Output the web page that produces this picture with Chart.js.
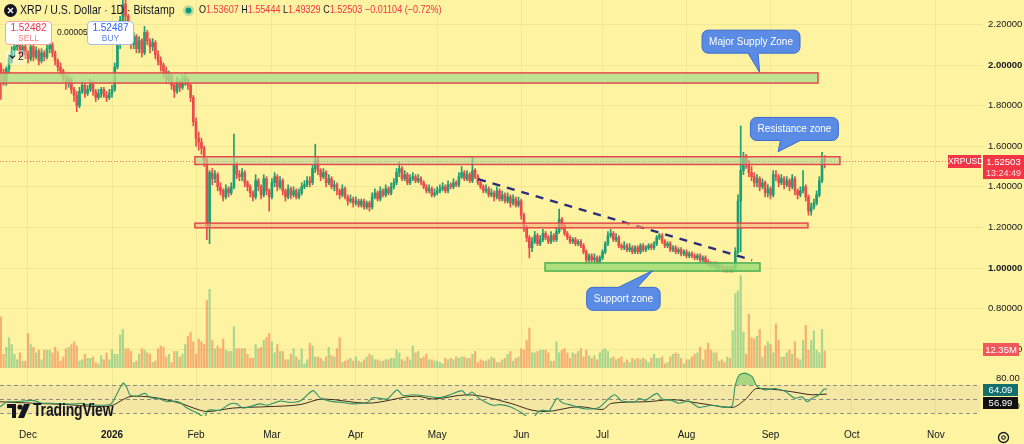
<!DOCTYPE html>
<html>
<head>
<meta charset="utf-8">
<script src="https://cdn.jsdelivr.net/npm/chart.js@4.4.1/dist/chart.umd.min.js"></script>
<style>
  body { margin: 0; width: 1024px; height: 444px; overflow: hidden; position: relative; background: #fef3a1; font-family: "Liberation Sans", Arial, sans-serif; color: #131722; }
  canvas { position: absolute; left: 0; }
  #priceCanvas { top: 0; }
  #rsiCanvas { top: 368px; }
  .ov { position: absolute; white-space: nowrap; }
  .sq { transform-origin: 0 50%; transform: scaleX(0.8); }
  .box { position: absolute; background: #fff; border-radius: 4px; text-align: center; line-height: 10px; }
  .tag { position: absolute; color: #fff; text-align: center; font-size: 9.5px; }
  .red { color: #f23645; }
</style>
</head>
<body>
<canvas id="priceCanvas" width="1024" height="368"></canvas>
<canvas id="rsiCanvas" width="1024" height="76"></canvas>

<!-- header -->
<svg class="ov" style="left:4px;top:4px" width="13" height="13"><circle cx="6.5" cy="6.5" r="6.5" fill="#131722"/><path d="M4 4 L9 9 M9 4 L4 9" stroke="#fff" stroke-width="1.4"/></svg>
<div class="ov sq" style="left:20px;top:2px;font-size:13.2px">XRP / U.S. Dollar · 1D · Bitstamp</div>
<svg class="ov" style="left:183px;top:5px" width="11" height="11"><circle cx="5.5" cy="5.5" r="5.5" fill="rgba(8,153,129,0.25)"/><circle cx="5.5" cy="5.5" r="3" fill="#089981"/></svg>
<div class="ov sq" style="left:199px;top:3px;font-size:11.3px">O<span class="red">1.53607</span> H<span class="red">1.55444</span> L<span class="red">1.49329</span> C<span class="red">1.52503</span> <span class="red">−0.01104 (−0.72%)</span></div>

<div class="box" style="left:5px;top:21px;width:45px;height:21px;border:1px solid #f4a3a8;padding-top:1px">
  <div style="font-size:10px;color:#f23645">1.52482</div><div style="font-size:8.5px;color:#f77c80">SELL</div>
</div>
<div class="ov" style="left:57px;top:27px;font-size:8.5px">0.00005</div>
<div class="box" style="left:87px;top:21px;width:45px;height:21px;border:1px solid #a9bde6;padding-top:1px">
  <div style="font-size:10px;color:#2962ff">1.52487</div><div style="font-size:8.5px;color:#5b86f0">BUY</div>
</div>
<div class="ov" style="left:6px;top:50px;width:20px;height:15px;background:rgba(255,255,255,0.35);border-radius:3px"></div>
<svg class="ov" style="left:9px;top:54px" width="7" height="6"><path d="M1 1.5 L3.5 4 L6 1.5" stroke="#131722" stroke-width="1.2" fill="none"/></svg>
<div class="ov" style="left:18px;top:50px;font-size:10.5px">2</div>

<!-- right side labels -->
<div class="tag" style="left:948px;top:155px;width:33px;height:13px;line-height:13px;background:#f23645;font-size:8.5px">XRPUSD</div>
<div class="tag" style="left:983px;top:155px;width:41px;height:24px;background:#f23645">
  <div style="line-height:12px;margin-top:1px">1.52503</div><div style="line-height:10px;font-size:9px;color:#fdd">13:24:49</div>
</div>
<div class="tag" style="left:983px;top:343px;width:36px;height:13px;line-height:13px;background:#f0585c">12.35M</div>
<div class="tag" style="left:983px;top:384px;width:35px;height:12px;line-height:12px;background:#13706c">64.09</div>
<div class="tag" style="left:983px;top:397px;width:35px;height:12px;line-height:12px;background:#111">56.99</div>

<!-- logo + settings -->
<svg class="ov" style="left:7px;top:404px" width="24" height="14">
  <path d="M0 0 H9 V14 H5 V4 H0 Z" fill="#131722"/><circle cx="13" cy="3" r="2.6" fill="#131722"/><path d="M17 0 H23 L17 14 H11 Z" fill="#131722"/>
</svg>
<div class="ov sq" style="left:33px;top:400px;font-size:17.5px;font-weight:bold;letter-spacing:-0.2px">TradingView</div>
<svg class="ov" style="left:997px;top:431px" width="13" height="13"><circle cx="6.5" cy="6.5" r="5" stroke="#131722" stroke-width="1.3" fill="none"/><circle cx="6.5" cy="6.5" r="1.8" stroke="#131722" stroke-width="1.1" fill="none"/></svg>

<script>
// ---- data (day index 0 = 1 Dec 2025) ----
const firstDay = -10;
const firstOpen = 2.00;

const closes = [
  1.96,1.92,1.98,2.03,2.07,2.09,2.12,2.06,2.09,2.05,
  2.03,2.09,2.04,2.07,2.02,2.06,2.04,2.08,2.10,2.06,2.02,1.99,1.97,1.94,1.91,1.93,1.88,1.85,1.80,1.87,1.90,1.86,1.88,1.91,1.87,1.84,1.86,1.88,1.85,1.84,1.86,
  1.88,1.99,2.10,2.22,2.30,2.24,2.13,2.10,2.14,2.08,2.12,2.06,2.16,2.12,2.09,2.11,2.05,2.02,2.00,1.97,1.93,1.95,1.90,1.87,1.92,1.89,1.92,1.93,1.90,1.84,1.72,
  1.64,1.62,1.59,1.53,1.20,1.47,1.44,1.46,1.40,1.38,1.35,1.39,1.37,1.40,1.51,1.46,1.45,1.47,1.42,1.40,1.37,1.35,1.43,1.40,1.36,1.44,1.38,1.35,
  1.42,1.45,1.40,1.43,1.38,1.35,1.39,1.36,1.38,1.35,1.37,1.40,1.41,1.43,1.42,1.49,1.53,1.48,1.45,1.47,1.42,1.44,1.40,1.41,1.38,1.36,1.39,1.35,1.33,1.34,1.32,
  1.33,1.31,1.33,1.30,1.32,1.30,1.35,1.37,1.34,1.38,1.36,1.39,1.37,1.40,1.42,1.47,1.49,1.44,1.46,1.42,1.44,1.45,1.43,1.44,1.42,1.40,1.38,1.39,1.36,1.37,
  1.38,1.39,1.40,1.38,1.41,1.40,1.42,1.41,1.45,1.47,1.44,1.46,1.43,1.48,1.45,1.42,1.40,1.38,1.39,1.36,1.37,1.35,1.38,1.34,1.36,1.33,1.35,1.32,1.34,1.31,1.33,
  1.26,1.20,1.15,1.10,1.13,1.16,1.12,1.14,1.17,1.15,1.13,1.16,1.14,1.18,1.24,1.21,1.17,1.15,1.13,1.14,1.12,1.13,1.11,1.08,1.04,1.06,1.04,1.05,1.03,1.05,
  1.08,1.12,1.16,1.17,1.14,1.15,1.11,1.10,1.11,1.09,1.10,1.08,1.10,1.08,1.11,1.09,1.10,1.11,1.10,1.12,1.15,1.16,1.13,1.11,1.12,1.09,1.10,1.08,1.09,1.07,1.08,
  1.06,1.07,1.06,1.05,1.06,1.04,1.05,1.03,1.02,1.01,1.02,1.00,1.01,1.00,0.99,1.00,0.99,1.00,1.08,1.33,1.48,1.55,1.52,1.47,1.45,1.42,1.44,1.40,1.42,1.37,1.39,
  1.36,1.46,1.45,1.42,1.44,1.41,1.43,1.40,1.44,1.38,1.36,1.38,1.40,1.35,1.28,1.30,1.32,1.36,1.43,1.536,1.525
];
const highs = [
  2.01,1.98,1.99,2.05,2.09,2.12,2.14,2.13,2.11,2.10,
  2.07,2.11,2.10,2.09,2.08,2.08,2.07,2.10,2.12,2.11,2.07,2.03,2.01,1.98,1.95,1.95,1.94,1.89,1.87,1.89,1.92,1.91,1.90,1.93,1.92,1.88,1.88,1.89,1.89,1.87,1.88,
  1.90,2.01,2.12,2.24,2.33,2.32,2.25,2.16,2.16,2.15,2.14,2.13,2.19,2.17,2.13,2.13,2.12,2.07,2.04,2.01,1.99,1.97,1.96,1.91,1.94,1.93,1.95,1.96,1.94,1.91,1.85,
  1.74,1.67,1.64,1.60,1.54,1.48,1.49,1.48,1.47,1.42,1.39,1.41,1.40,1.42,1.66,1.52,1.48,1.49,1.48,1.43,1.41,1.38,1.46,1.44,1.41,1.46,1.45,1.39,
  1.44,1.47,1.46,1.45,1.44,1.39,1.41,1.40,1.40,1.39,1.39,1.42,1.43,1.45,1.45,1.51,1.61,1.55,1.49,1.49,1.48,1.46,1.45,1.43,1.42,1.39,1.41,1.40,1.36,1.36,1.35,
  1.35,1.34,1.34,1.34,1.33,1.33,1.37,1.39,1.38,1.40,1.39,1.41,1.40,1.42,1.44,1.49,1.52,1.50,1.48,1.47,1.46,1.47,1.46,1.46,1.45,1.43,1.41,1.41,1.40,1.39,
  1.40,1.41,1.42,1.41,1.43,1.42,1.44,1.43,1.47,1.50,1.48,1.48,1.47,1.55,1.49,1.46,1.43,1.41,1.41,1.40,1.39,1.38,1.40,1.39,1.38,1.37,1.37,1.36,1.36,1.35,1.35,
  1.34,1.27,1.21,1.16,1.15,1.18,1.17,1.16,1.19,1.18,1.16,1.18,1.17,1.20,1.29,1.25,1.22,1.18,1.16,1.15,1.15,1.14,1.14,1.12,1.09,1.07,1.07,1.07,1.06,1.06,
  1.09,1.13,1.18,1.19,1.18,1.17,1.16,1.12,1.13,1.12,1.12,1.11,1.11,1.11,1.12,1.12,1.11,1.12,1.12,1.13,1.16,1.17,1.17,1.14,1.13,1.13,1.11,1.11,1.10,1.10,1.09,
  1.09,1.08,1.08,1.07,1.07,1.07,1.06,1.06,1.04,1.03,1.03,1.03,1.02,1.02,1.01,1.01,1.01,1.01,1.10,1.36,1.70,1.57,1.56,1.53,1.50,1.47,1.46,1.45,1.44,1.43,1.41,
  1.40,1.48,1.48,1.46,1.46,1.45,1.45,1.44,1.46,1.45,1.39,1.40,1.48,1.41,1.36,1.32,1.34,1.38,1.45,1.57,1.554
];
const lows = [
  1.83,1.90,1.90,1.96,2.01,2.05,2.07,2.04,2.04,2.03,
  2.01,2.02,2.02,2.03,2.00,2.01,2.02,2.03,2.06,2.04,2.00,1.97,1.95,1.92,1.88,1.89,1.86,1.82,1.77,1.79,1.86,1.84,1.85,1.87,1.85,1.82,1.83,1.84,1.84,1.82,1.83,
  1.84,1.87,1.98,2.08,2.20,2.21,2.11,2.08,2.08,2.06,2.06,2.04,2.05,2.10,2.06,2.07,2.03,2.00,1.97,1.94,1.91,1.91,1.88,1.84,1.86,1.87,1.88,1.90,1.88,1.82,1.70,
  1.60,1.58,1.56,1.50,1.14,1.12,1.41,1.42,1.38,1.36,1.33,1.34,1.35,1.36,1.39,1.44,1.43,1.43,1.40,1.38,1.35,1.33,1.34,1.38,1.34,1.35,1.36,1.28,
  1.34,1.40,1.38,1.39,1.36,1.33,1.34,1.34,1.35,1.34,1.34,1.36,1.39,1.40,1.40,1.41,1.47,1.46,1.43,1.44,1.40,1.41,1.39,1.38,1.36,1.34,1.35,1.34,1.31,1.32,1.30,
  1.31,1.30,1.30,1.29,1.29,1.28,1.29,1.34,1.33,1.33,1.35,1.35,1.36,1.36,1.39,1.41,1.45,1.43,1.43,1.41,1.41,1.43,1.42,1.42,1.41,1.39,1.37,1.37,1.35,1.35,
  1.36,1.37,1.38,1.37,1.37,1.39,1.39,1.40,1.40,1.44,1.43,1.43,1.42,1.42,1.44,1.41,1.39,1.37,1.37,1.35,1.35,1.33,1.34,1.33,1.33,1.32,1.32,1.30,1.31,1.30,1.30,
  1.24,1.18,1.13,1.05,1.08,1.12,1.11,1.11,1.13,1.14,1.12,1.12,1.13,1.13,1.17,1.19,1.16,1.14,1.12,1.12,1.11,1.11,1.10,1.07,1.02,1.03,1.03,1.03,1.02,1.02,
  1.04,1.07,1.11,1.15,1.13,1.13,1.10,1.09,1.09,1.08,1.08,1.07,1.07,1.07,1.07,1.08,1.08,1.09,1.09,1.09,1.11,1.14,1.12,1.10,1.10,1.08,1.08,1.07,1.07,1.06,1.06,
  1.05,1.05,1.05,1.04,1.04,1.03,1.03,1.02,1.01,1.00,1.00,0.99,0.99,0.99,0.98,0.98,0.98,0.98,0.99,1.07,1.08,1.46,1.49,1.45,1.43,1.40,1.40,1.38,1.39,1.35,1.35,
  1.34,1.35,1.43,1.40,1.41,1.39,1.40,1.38,1.39,1.36,1.34,1.35,1.37,1.33,1.26,1.26,1.29,1.31,1.35,1.42,1.493
];
// volume in millions
const volumes = [
  37,10,15,22,17,10,6,11,5,5,
  25,17,15,11,13,6,13,13,13,11,15,12,5,8,14,15,17,19,16,5,6,10,7,7,8,4,3,9,6,11,6,
  13,10,10,24,28,14,14,12,4,5,10,14,13,11,10,4,5,14,16,15,8,10,4,12,12,8,10,17,23,26,19,
  10,21,19,17,49,57,20,14,16,14,21,13,12,12,30,14,14,14,14,10,7,7,17,14,15,20,22,25,
  19,11,17,12,12,6,6,10,14,8,6,14,3,6,18,16,8,8,7,5,8,15,9,8,14,22,4,5,6,7,5,
  8,5,4,6,8,10,9,6,6,5,5,6,6,7,7,13,11,6,5,8,6,16,11,12,7,8,10,6,6,5,5,4,3,7,
  6,7,6,8,7,8,8,7,7,10,12,4,6,5,5,6,8,7,4,4,6,7,10,12,5,7,8,14,13,20,29,
  11,11,12,13,13,13,11,5,5,19,11,13,14,11,7,11,10,12,14,8,13,9,7,9,6,11,13,14,12,7,
  8,6,7,8,4,6,4,7,6,7,6,7,6,4,7,10,7,7,8,3,4,8,10,11,10,7,3,6,6,8,10,
  11,15,6,13,18,13,11,11,5,6,4,8,7,27,54,56,67,26,10,39,22,21,23,28,8,16,19,17,11,32,20,
  8,8,11,13,10,19,7,6,20,31,13,20,27,13,11,28,12.35
];

const monthDays = [0, 31, 62, 90, 121, 151, 182, 212, 243, 274, 304, 335];
const monthLabels = ['Dec', '2026', 'Feb', 'Mar', 'Apr', 'May', 'Jun', 'Jul', 'Aug', 'Sep', 'Oct', 'Nov'];
const priceTicks = [0.6, 0.8, 1.0, 1.2, 1.4, 1.6, 1.8, 2.0, 2.2];
const rsiTicks = [40, 80];
const lastPrice = 1.52503;

const rsiDays = [-10.3,-7.7,-5.5,-1.8,1.8,5.2,8.1,12.9,18.1,19.2,21.8,26.6,30.3,31.4,33.2,35.1,36.5,37.6,40.2,43.2,45.0,48.7,51.3,53.5,56.1,58.7,62.4,65.3,66.4,70.8,74.5,77.1,79.3,85.6,88.2,93.0,96.7,100.4,105.2,107.7,111.4,116.2,119.9,125.1,127.3,132.5,136.2,138.4,142.1,147.2,152.0,155.7,160.1,162.0,163.8,166.8,171.6,174.2,177.9,182.3,186.0,187.8,189.7,192.3,195.2,197.0,200.7,205.5,210.7,214.4,216.6,219.2,224.0,225.5,227.7,232.1,234.0,237.6,240.2,243.9,247.6,252.4,257.2,259.8,260.9,262.4,264.6,267.2,269.0,272.0,275.6,279.3,283.0,285.6,287.5,289.3,291.9,293.7,294.8];
const rsiValues = [39,46,46,47,48,44,44,43,43,44,42,41,42,47,60,73,66,56,54,58,52,50,46,47,45,37,30,24,34,34,43,43,37,43,41,47,45,47,62,52,47,45,43,45,52,50,63,55,56,54,52,56,62,55,60,50,41,42,39,30,20,30,34,33,51,45,41,36,38,51,56,47,46,51,48,58,50,48,44,47,38,41,38,40,68,84,87,82,68,63,65,61,51,53,46,51,56,64,64.09];
const rsiMaDays = [-10.3,1.8,14.4,26.6,30.3,38.7,45.0,56.1,63.5,66.1,75.6,88.2,100.4,108.9,125.1,143.5,149.4,162.0,177.9,186.0,190.8,203.3,211.8,215.5,227.7,237.6,247.6,259.8,264.6,269.0,277.1,285.6,289.3,294.8];
const rsiMaValues = [46,44,42,39,40,54,53,44,34,32,37,39,42,50,44,54,50,56,44,34,32,39,35,44,46,49,44,38,49,65,63,58,56,56.99];

const trendDays = [166.1, 267.2];
const trendPrices = [1.438, 1.039];

// drawn zones: day range and price range
const zoneKinds = ['supply', 'resistance', 'level', 'support'];
const zoneFrom  = [-12, 61.6, 61.6, 190.8];
const zoneTo    = [291.5, 299.6, 287.8, 270.1];
const zoneLow   = [1.911, 1.510, 1.198, 0.985];
const zoneHigh  = [1.961, 1.548, 1.221, 1.025];

const calloutText  = ['Major Supply Zone', 'Resistance zone', 'Support zone'];
const calloutDay   = [266.8, 282.8, 219.7];
const calloutPrice = [2.115, 1.685, 0.848];
const calloutTipDay   = [270.0, 276.8, 230.6];
const calloutTipPrice = [1.963, 1.573, 0.988];

// ---- styles ----
const FONT = '"Liberation Sans", Arial, sans-serif';
const GRID = 'rgba(90,80,20,0.07)';
const UP = '#1e9e74';
const DOWN = '#ea4c4c';
const VOL_UP = 'rgba(70,180,120,0.45)';
const VOL_DOWN = 'rgba(240,110,70,0.5)';
const zoneStyles = {
  supply:     { fill: 'rgba(175,222,140,0.8)', border: '#e5484d' },
  resistance: { fill: 'rgba(180,215,150,0.6)', border: '#e5484d' },
  level:      { fill: 'rgba(246,175,125,0.6)', border: '#e5484d' },
  support:    { fill: 'rgba(160,220,120,0.85)', border: '#4caf50' }
};
const tailBase = [[-3, 7], [-14, 6], [-5, 14]];

const X_MIN = -10.33, X_MAX = 352.4;

const days = closes.map((c, i) => firstDay + i);
const opens = closes.map((c, i) => i === 0 ? firstOpen : closes[i - 1]);
const isUp = closes.map((c, i) => c >= opens[i]);

Chart.defaults.font.family = FONT;
Chart.defaults.color = '#131722';

function monthAxis(scale) {
  scale.ticks = monthDays.map(v => ({ value: v }));
}
// keep axis labels from shrinking the plot area
function noPad(scale) {
  scale.paddingTop = 0;
  scale.paddingBottom = 0;
  scale.paddingLeft = 0;
  scale.paddingRight = 0;
}

const zonesPlugin = {
  id: 'zones',
  beforeDatasetsDraw(chart) {
    const { ctx, chartArea: a, scales: { y } } = chart;
    const py = Math.round(y.getPixelForValue(lastPrice)) + 0.5;
    ctx.save();
    ctx.strokeStyle = 'rgba(242,54,69,0.7)';
    ctx.setLineDash([1, 2]);
    ctx.lineWidth = 1;
    ctx.beginPath();
    ctx.moveTo(a.left, py);
    ctx.lineTo(a.right, py);
    ctx.stroke();
    ctx.restore();
  },
  afterDatasetsDraw(chart) {
    const { ctx, chartArea: a, scales: { x, y } } = chart;
    ctx.save();
    ctx.beginPath();
    ctx.rect(a.left, a.top, a.right - a.left, a.bottom - a.top);
    ctx.clip();
    zoneKinds.forEach((kind, i) => {
      const st = zoneStyles[kind];
      const x0 = x.getPixelForValue(zoneFrom[i]), x1 = x.getPixelForValue(zoneTo[i]);
      const y0 = y.getPixelForValue(zoneHigh[i]), y1 = y.getPixelForValue(zoneLow[i]);
      ctx.fillStyle = st.fill;
      ctx.fillRect(x0, y0, x1 - x0, y1 - y0);
      ctx.strokeStyle = st.border;
      ctx.lineWidth = 1.5;
      ctx.strokeRect(x0, y0, x1 - x0, y1 - y0);
    });

    // callouts
    ctx.font = '10px ' + FONT;
    calloutText.forEach((text, i) => {
      const cx = x.getPixelForValue(calloutDay[i]), cy = y.getPixelForValue(calloutPrice[i]);
      const tx = x.getPixelForValue(calloutTipDay[i]), ty = y.getPixelForValue(calloutTipPrice[i]);
      const w = ctx.measureText(text).width + 14, h = 23;
      const left = cx - w / 2, top = cy - h / 2;
      ctx.fillStyle = '#5a8ce6';
      ctx.strokeStyle = '#3a6cd0';
      ctx.lineWidth = 1;
      ctx.beginPath();
      ctx.roundRect(left, top, w, h, 6);
      ctx.fill();
      ctx.stroke();
      const below = ty > cy;
      const edge = below ? top + h : top;
      const inner = below ? edge - 1.5 : edge + 1.5;
      const b0 = cx + tailBase[i][0], b1 = cx + tailBase[i][1];
      ctx.beginPath();
      ctx.moveTo(b0, inner);
      ctx.lineTo(b0, edge);
      ctx.lineTo(tx, ty);
      ctx.lineTo(b1, edge);
      ctx.lineTo(b1, inner);
      ctx.closePath();
      ctx.fill();
      ctx.beginPath();
      ctx.moveTo(b0, edge);
      ctx.lineTo(tx, ty);
      ctx.lineTo(b1, edge);
      ctx.stroke();
      ctx.fillStyle = '#fff';
      ctx.textAlign = 'center';
      ctx.textBaseline = 'middle';
      ctx.fillText(text, cx, cy + 0.5);
    });
    ctx.restore();
  }
};

new Chart(document.getElementById('priceCanvas'), {
  type: 'bar',
  data: {
    datasets: [
      {
        label: 'Volume',
        yAxisID: 'yVol',
        data: days.map((d, i) => ({ x: d, y: volumes[i] })),
        backgroundColor: isUp.map(u => u ? VOL_UP : VOL_DOWN),
        barThickness: 1.6,
        grouped: false,
        order: 3
      },
      {
        label: 'Wicks',
        yAxisID: 'y',
        data: days.map((d, i) => ({ x: d, y: [lows[i], highs[i]] })),
        backgroundColor: isUp.map(u => u ? UP : DOWN),
        barThickness: 1,
        grouped: false,
        order: 2
      },
      {
        label: 'Bodies',
        yAxisID: 'y',
        data: days.map((d, i) => ({ x: d, y: [opens[i], closes[i]] })),
        backgroundColor: isUp.map(u => u ? UP : DOWN),
        barThickness: 2,
        minBarLength: 1,
        grouped: false,
        order: 1
      },
      {
        type: 'line',
        label: 'Trend',
        yAxisID: 'y',
        data: trendDays.map((d, i) => ({ x: d, y: trendPrices[i] })),
        borderColor: '#2b2d7a',
        borderWidth: 2.5,
        borderDash: [8, 7],
        pointRadius: 0,
        order: 0
      }
    ]
  },
  options: {
    responsive: false,
    animation: false,
    devicePixelRatio: 1,
    layout: { padding: 0 },
    plugins: { legend: { display: false }, tooltip: { enabled: false } },
    scales: {
      x: {
        type: 'linear',
        min: X_MIN,
        max: X_MAX,
        offset: false,
        afterBuildTicks: monthAxis,
        afterFit: s => { s.height = 0; noPad(s); },
        ticks: { display: false },
        grid: { color: GRID, drawTicks: false, offset: false },
        border: { display: false }
      },
      y: {
        position: 'right',
        min: 0.5074,
        max: 2.3202,
        afterBuildTicks: s => { s.ticks = priceTicks.map(v => ({ value: v })); },
        afterFit: s => { s.width = 41; noPad(s); },
        grid: { color: GRID, drawTicks: false },
        border: { display: false },
        ticks: {
          padding: 5,
          color: '#131722',
          font: c => ({ size: 9.5, weight: (c.tick && (Math.abs(c.tick.value - 1) < 1e-6 || Math.abs(c.tick.value - 2) < 1e-6)) ? 'bold' : 'normal' }),
          callback: v => v.toFixed(5)
        }
      },
      yVol: {
        position: 'left',
        display: false,
        min: 0,
        max: 267
      }
    }
  },
  plugins: [zonesPlugin]
});

const rsiBandPlugin = {
  id: 'rsiBand',
  beforeDatasetsDraw(chart) {
    const { ctx, chartArea: a, scales: { y } } = chart;
    const y70 = y.getPixelForValue(70), y50 = y.getPixelForValue(50), y30 = y.getPixelForValue(30);
    ctx.save();
    ctx.fillStyle = 'rgba(126,87,194,0.08)';
    ctx.fillRect(a.left, y70, a.right - a.left - 3, y30 - y70);
    ctx.strokeStyle = 'rgba(110,110,120,0.75)';
    ctx.lineWidth = 1;
    ctx.setLineDash([4, 3]);
    [y70, y50, y30].forEach(py => {
      ctx.beginPath();
      ctx.moveTo(a.left, Math.round(py) + 0.5);
      ctx.lineTo(a.right - 3, Math.round(py) + 0.5);
      ctx.stroke();
    });
    ctx.restore();
  }
};

new Chart(document.getElementById('rsiCanvas'), {
  type: 'line',
  data: {
    datasets: [
      {
        label: 'RSI',
        data: rsiDays.map((d, i) => ({ x: d, y: rsiValues[i] })),
        borderColor: '#2f9468',
        borderWidth: 1.1,
        pointRadius: 0,
        tension: 0.25,
        fill: { target: { value: 70 }, above: 'rgba(70,180,90,0.45)', below: 'rgba(0,0,0,0)' }
      },
      {
        label: 'RSI MA',
        data: rsiMaDays.map((d, i) => ({ x: d, y: rsiMaValues[i] })),
        borderColor: '#3b2c1c',
        borderWidth: 1,
        pointRadius: 0,
        cubicInterpolationMode: 'monotone'
      }
    ]
  },
  options: {
    responsive: false,
    animation: false,
    devicePixelRatio: 1,
    layout: { padding: 0 },
    plugins: { legend: { display: false }, tooltip: { enabled: false } },
    scales: {
      x: {
        type: 'linear',
        min: X_MIN,
        max: X_MAX,
        afterBuildTicks: monthAxis,
        afterFit: s => { s.height = 28; noPad(s); },
        grid: { color: GRID, drawTicks: false },
        border: { display: false },
        ticks: {
          autoSkip: false,
          maxRotation: 0,
          padding: 13,
          color: '#131722',
          font: c => ({ size: 10, weight: (c.tick && c.tick.value === 31) ? 'bold' : 'normal' }),
          callback: v => monthLabels[monthDays.indexOf(v)]
        }
      },
      y: {
        position: 'right',
        min: 25.7,
        max: 94.3,
        afterBuildTicks: s => { s.ticks = rsiTicks.map(v => ({ value: v })); },
        afterFit: s => { s.width = 41; noPad(s); },
        grid: { display: false },
        border: { display: false },
        ticks: { padding: 5, color: '#131722', font: { size: 9.5 }, callback: v => v.toFixed(2) }
      }
    }
  },
  plugins: [rsiBandPlugin]
});
</script>
</body>
</html>
